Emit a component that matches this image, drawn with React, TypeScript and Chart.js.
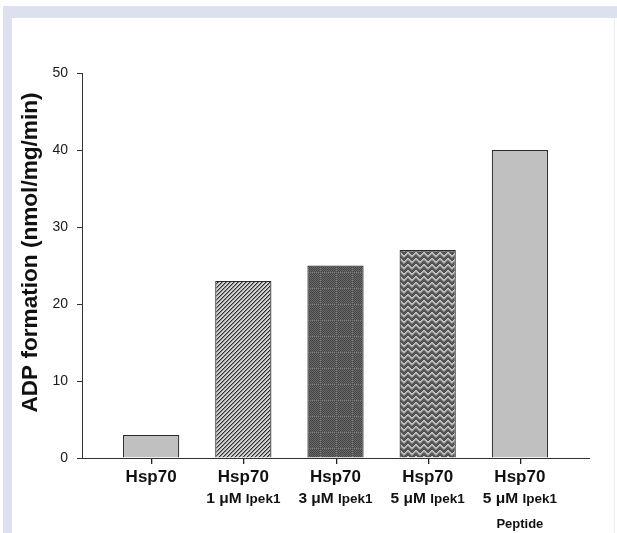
import React, { useEffect, useRef } from "react";
import { Chart, registerables } from "chart.js";

Chart.register(...registerables);

const labelMain = ["Hsp70", "Hsp70", "Hsp70", "Hsp70", "Hsp70"];
const labelDose = ["", "1 μM", "3 μM", "5 μM", "5 μM"];
const labelDrug = ["", "Ipek1", "Ipek1", "Ipek1", "Ipek1"];
const labelExtra = ["", "", "", "", "Peptide"];
const values = [3, 23, 25, 27, 40];
const yMin = 0;
const yMax = 50;
const yStep = 10;
const yTitle = "ADP formation (nmol/mg/min)";

const FONT = "'Liberation Sans', Arial, Helvetica, sans-serif";

function tile(w: number, h: number, paint: (x: number, y: number) => string) {
  const c = document.createElement("canvas");
  c.width = w;
  c.height = h;
  const g = c.getContext("2d")!;
  for (let y = 0; y < h; y++) {
    for (let x = 0; x < w; x++) {
      g.fillStyle = paint(x, y);
      g.fillRect(x, y, 1, 1);
    }
  }
  return c;
}

function makePatterns(ctx: CanvasRenderingContext2D) {
  const solid = "#c0c0c0";
  const stripes = ctx.createPattern(
    tile(4, 4, (x, y) => ((x + y) % 4 === 3 ? "#2e2e2e" : (x + y) % 4 === 0 ? "#8a8a8a" : "#d2d2d2")),
    "repeat"
  )!;
  const checker = ctx.createPattern(
    tile(16, 16, (x, y) => {
      const c = (x + y) % 2 === 0;
      if (y === 0 || x === 0) return c ? "#808080" : "#585858";
      return c ? "#444444" : "#6a6a6a";
    }),
    "repeat"
  )!;
  const zig = ctx.createPattern(
    tile(8, 6, (x, y) => {
      const y0 = x < 4 ? x : 7 - x;
      const d = (y - y0 + 6) % 6;
      if (d === 0) return "#c8c8c8";
      if (d === 1) return "#b0b0b0";
      if (d === 2) return "#808080";
      return (x + y) % 2 === 0 ? "#4a4a4a" : "#5e5e5e";
    }),
    "repeat"
  )!;
  return [solid, stripes, checker, zig, solid];
}

const labelPlugin = {
  id: "customLabels",
  afterDraw(chart: any) {
    const { ctx, chartArea, scales } = chart;
    const xs = scales.x;
    ctx.save();
    ctx.fillStyle = "#222";
    for (let i = 0; i < labelMain.length; i++) {
      const px = Math.round(xs.getPixelForValue(i));
      ctx.fillRect(px, Math.round(chartArea.bottom) + 1, 1.3, 5);
    }
    ctx.fillStyle = "#111";
    ctx.textBaseline = "alphabetic";
    for (let i = 0; i < labelMain.length; i++) {
      const cx = xs.getPixelForValue(i);
      const base = chartArea.bottom;
      ctx.textAlign = "center";
      ctx.font = `bold 17px ${FONT}`;
      ctx.fillText(labelMain[i], cx, base + 24);
      if (labelDose[i]) {
        ctx.font = `bold 15.5px ${FONT}`;
        const w1 = ctx.measureText(labelDose[i] + " ").width;
        ctx.font = `bold 13.5px ${FONT}`;
        const w2 = ctx.measureText(labelDrug[i]).width;
        const start = cx - (w1 + w2) / 2;
        ctx.textAlign = "left";
        ctx.font = `bold 15.5px ${FONT}`;
        ctx.fillText(labelDose[i] + " ", start, base + 45);
        ctx.font = `bold 13.5px ${FONT}`;
        ctx.fillText(labelDrug[i], start + w1, base + 45);
      }
      if (labelExtra[i]) {
        ctx.textAlign = "center";
        ctx.font = `bold 13px ${FONT}`;
        ctx.fillText(labelExtra[i], cx, base + 70);
      }
    }
    const ty = (chartArea.top + chartArea.bottom) / 2 - 13;
    ctx.translate(chartArea.left - 45, ty);
    ctx.rotate(-Math.PI / 2);
    ctx.textAlign = "center";
    ctx.font = `bold 22.6px ${FONT}`;
    ctx.fillText(yTitle, 0, 0);
    ctx.restore();
  },
};

export default function App() {
  const ref = useRef<HTMLCanvasElement>(null);
  useEffect(() => {
    const canvas = ref.current!;
    const ctx = canvas.getContext("2d")!;
    const fills = makePatterns(ctx);
    const chart = new Chart(canvas, {
      type: "bar",
      data: {
        datasets: [
          {
            data: values.map((v, i) => ({ x: i, y: v })),
            backgroundColor: fills as any,
            borderColor: "#2a2a2a",
            borderWidth: 1.2,
            borderSkipped: "bottom",
            barPercentage: 0.61,
            categoryPercentage: 1,
          },
        ],
      },
      options: {
        animation: false,
        responsive: false,
        devicePixelRatio: 1,
        layout: { padding: { left: 0, right: 28, top: 73, bottom: 0 } },
        plugins: { legend: { display: false }, tooltip: { enabled: false } },
        scales: {
          x: {
            type: "linear",
            offset: false,
            min: -0.75,
            max: 4.75,
            afterBuildTicks: (s: any) => {
              s.ticks = labelMain.map((_, i) => ({ value: i }));
            },
            afterFit: (s: any) => {
              s.height = 75;
            },
            ticks: { display: false },
            grid: { display: false },
            border: { display: true, color: "#333", width: 1 },
          },
          y: {
            min: yMin,
            max: yMax,
            afterFit: (s: any) => {
              s.width = 82;
            },
            ticks: {
              stepSize: yStep,
              padding: 9,
              color: "#1a1a1a",
              font: { family: FONT, size: 14 },
            },
            grid: { drawOnChartArea: false, drawTicks: true, tickLength: 5, color: "#333", lineWidth: 1 },
            border: { display: true, color: "#333", width: 1 },
          },
        },
      },
      plugins: [labelPlugin],
    });
    return () => chart.destroy();
  }, []);

  return (
    <div style={{ position: "fixed", left: 0, top: 0, width: 617, height: 533, background: "#fff", overflow: "hidden" }}>
      <div style={{ position: "absolute", left: 3, top: 6, width: 614, height: 12, background: "#dde0ee" }} />
      <div style={{ position: "absolute", left: 3, top: 6, width: 9, height: 527, background: "#dde0ee" }} />
      <div style={{ position: "absolute", left: 614, top: 18, width: 1, height: 515, background: "#eceef5" }} />
      <canvas ref={ref} width={617} height={533} style={{ position: "absolute", left: 0, top: 0, width: 617, height: 533 }} />
    </div>
  );
}
